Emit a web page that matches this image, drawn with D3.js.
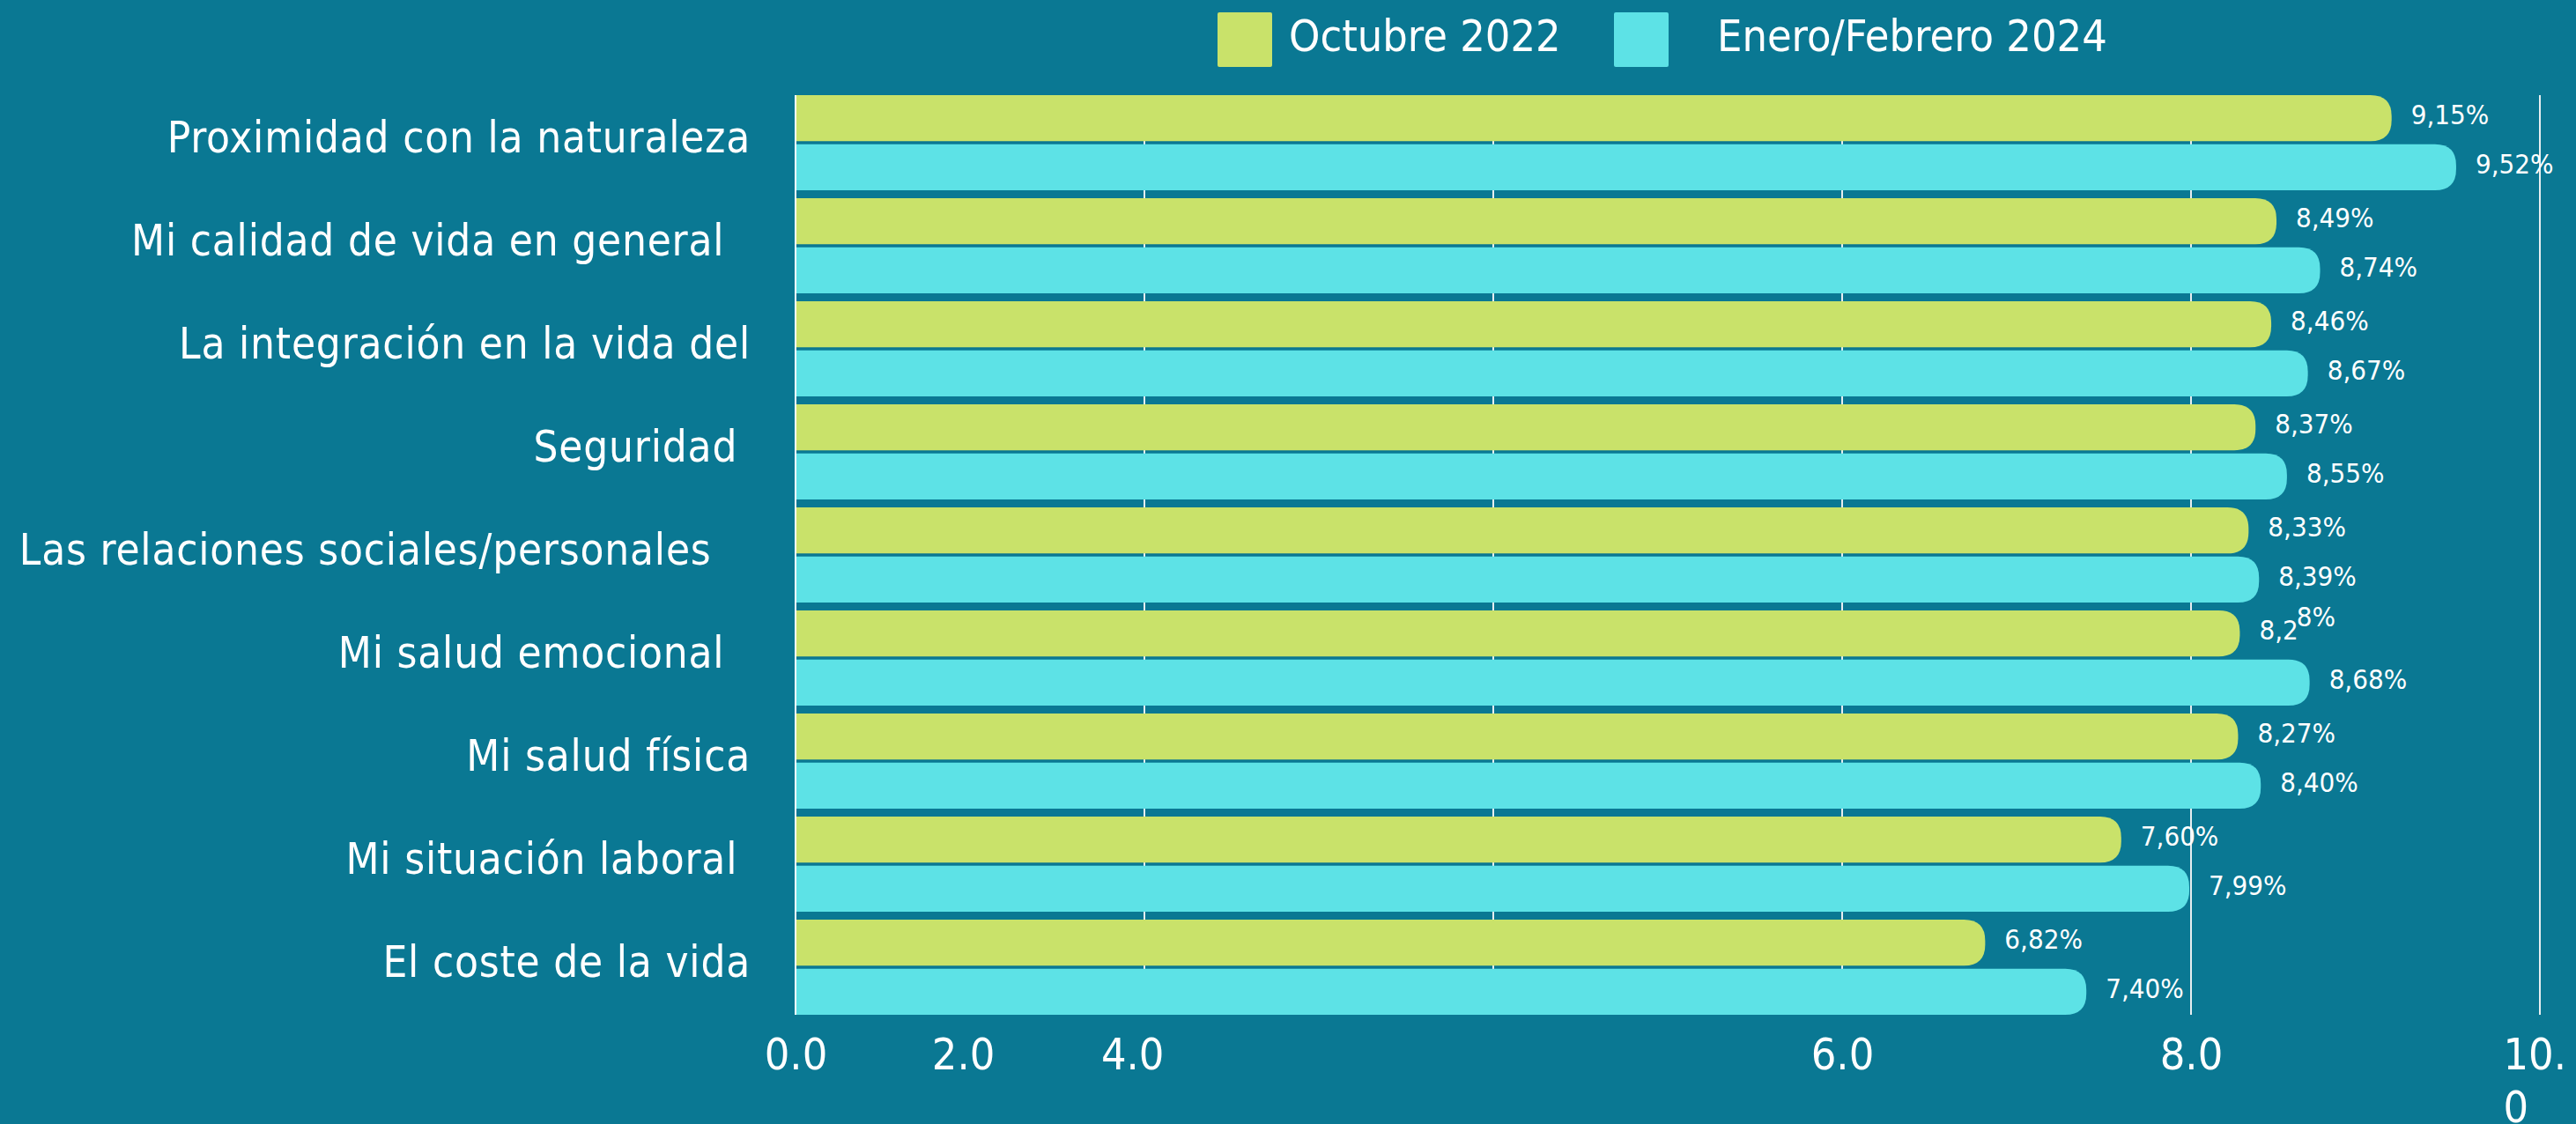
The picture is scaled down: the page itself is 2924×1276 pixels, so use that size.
<!DOCTYPE html>
<html>
<head>
<meta charset="utf-8">
<script src="https://cdn.jsdelivr.net/npm/d3@7"></script>
<style>
    html, body { margin: 0; padding: 0; background: #0a7893; }
    svg text { font-family: "DejaVu Sans Condensed", "DejaVu Sans", sans-serif; font-stretch: condensed; fill: #ffffff; white-space: pre; }
</style>
</head>
<body>
<div id="chart"></div>
<script>
// Data
const categories = [
    "Proximidad con la naturaleza",
    "Mi calidad de vida en general  ",
    "La integración en la vida del",
    "Seguridad ",
    "Las relaciones sociales/personales   ",
    "Mi salud emocional  ",
    "Mi salud física",
    "Mi situación laboral ",
    "El coste de la vida"
];
const seriesNames = ["Octubre 2022", "Enero/Febrero 2024"];
const oct2022 = [9.15, 8.49, 8.46, 8.37, 8.33, 8.28, 8.27, 7.60, 6.82];
const ene2024 = [9.52, 8.74, 8.67, 8.55, 8.39, 8.68, 8.40, 7.99, 7.40];
const gridValues = [2, 4, 6, 8, 10];
// where the (misplaced) tick labels sit in the original, in axis units
const tickAt = [0, 0.96, 1.93, 6, 8, 10];
const tickLabels = ["0.0", "2.0", "4.0", "6.0", "8.0", "10.0"];

const colors = ["#c9e26a", "#5de2e6"];

const width = 2924;
const height = 1276;

const svg = d3.select("#chart")
    .append("svg")
    .attr("width", width)
    .attr("height", height);

svg.append("rect")
    .attr("width", width)
    .attr("height", height)
    .attr("fill", "#0a7893");

// Scales
const x = d3.scaleLinear()
    .domain([0, 10])
    .range([903, 2883]);

const y0 = d3.scaleBand()
    .domain(categories)
    .range([108, 1152])
    .paddingInner(0.0769)
    .paddingOuter(0);

const y1 = d3.scaleBand()
    .domain([0, 1])
    .range([0, y0.bandwidth()])
    .paddingInner(0.063);

const plotTop = y0.range()[0];
const plotBottom = y0.range()[1];

// Gridlines
svg.append("g")
    .selectAll("line")
    .data(gridValues)
    .enter()
    .append("line")
    .attr("x1", d => x(d))
    .attr("x2", d => x(d))
    .attr("y1", plotTop)
    .attr("y2", plotBottom)
    .attr("stroke", "#e8eef0")
    .attr("stroke-width", 2);

// Rounded-right bar path
function barPath(x0, x1, top, h, r) {
    const w = x1 - x0;
    r = Math.min(r, w, h / 2);
    return `M${x0},${top}H${x1 - r}Q${x1},${top} ${x1},${top + r}V${top + h - r}Q${x1},${top + h} ${x1 - r},${top + h}H${x0}Z`;
}

// Flatten rows
const rows = [];
categories.forEach((c, i) => {
    rows.push({ cat: c, s: 0, v: oct2022[i] });
    rows.push({ cat: c, s: 1, v: ene2024[i] });
});

svg.append("g")
    .selectAll("path")
    .data(rows)
    .enter()
    .append("path")
    .attr("d", d => barPath(x(0), x(d.v), y0(d.cat) + y1(d.s), y1.bandwidth(), 24))
    .attr("fill", d => colors[d.s]);

// Zero axis line
svg.append("line")
    .attr("x1", x(0))
    .attr("x2", x(0))
    .attr("y1", plotTop)
    .attr("y2", plotBottom)
    .attr("stroke", "#ffffff")
    .attr("stroke-width", 2);

// Value labels
const fmt = v => v.toFixed(2).replace(".", ",") + "%";
const valueLabels = svg.append("g")
    .selectAll("text")
    .data(rows)
    .enter()
    .append("text")
    .attr("x", d => x(d.v) + 22)
    .attr("y", d => y0(d.cat) + y1(d.s) + y1.bandwidth() / 2 + 7)
    .attr("font-size", 31);

valueLabels.each(function (d) {
    const t = d3.select(this);
    const s = fmt(d.v);
    // the 8,28% label has its last digit raised in the original
    if (d.s === 0 && d.v === 8.28) {
        t.append("tspan").text(s.slice(0, 3));
        t.append("tspan").attr("dy", -15).attr("dx", -2).text(s.slice(3));
    } else {
        t.text(s);
    }
});

// Category labels
svg.append("g")
    .selectAll("text")
    .data(categories)
    .enter()
    .append("text")
    .attr("x", 852)
    .attr("y", d => y0(d) + y0.bandwidth() / 2 - 6)
    .attr("dy", "0.35em")
    .attr("text-anchor", "end")
    .attr("font-size", 49)
    .attr("letter-spacing", 0.8)
    .text(d => d);

// Bottom axis
const xAxis = d3.axisBottom(x)
    .tickValues(tickAt)
    .tickFormat((d, i) => tickLabels[i])
    .tickSize(0)
    .tickPadding(0);

const axisG = svg.append("g")
    .attr("transform", `translate(0, 1178)`)
    .call(xAxis);

axisG.select(".domain").remove();
axisG.selectAll("text")
    .attr("font-size", 50)
    .attr("fill", "#ffffff")
    .attr("dy", "0.72em")
    .attr("y", 0);

// last label wraps onto two lines
axisG.selectAll(".tick").filter((d, i) => i === tickLabels.length - 1)
    .select("text")
    .each(function () {
        const t = d3.select(this);
        const label = t.text();
        t.text(null).attr("text-anchor", "start").attr("x", -42);
        t.append("tspan").attr("x", -42).text(label.slice(0, 3));
        t.append("tspan").attr("x", -42).attr("dy", 60).text(label.slice(3));
    });

// Legend
const legend = svg.append("g")
    .selectAll("g")
    .data(seriesNames)
    .enter()
    .append("g")
    .attr("transform", (d, i) => `translate(${[1382, 1832][i]}, 14)`);

legend.append("rect")
    .attr("width", 62)
    .attr("height", 62)
    .attr("rx", 2)
    .attr("fill", (d, i) => colors[i]);

legend.append("text")
    .attr("x", (d, i) => [81, 117][i])
    .attr("y", 44)
    .attr("font-size", 50)
    .text(d => d);
</script>
</body>
</html>
